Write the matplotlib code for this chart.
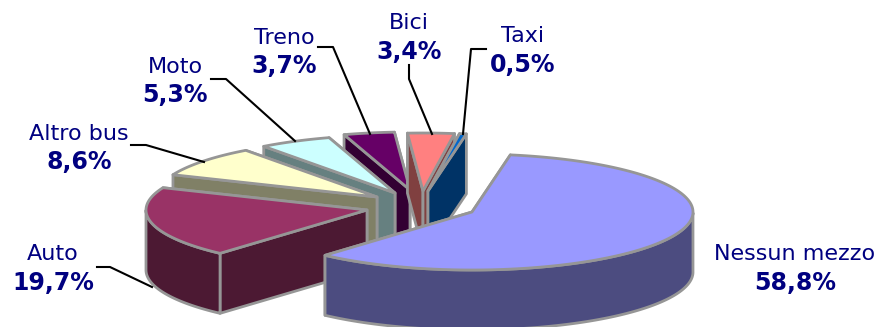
import numpy as np
import matplotlib
matplotlib.use('Agg')
import matplotlib.pyplot as plt
from matplotlib.patches import Polygon

# Share of trips per transport mode, clockwise from the top of the pie
categories = ['Nessun mezzo', 'Auto', 'Altro bus', 'Moto', 'Treno', 'Bici', 'Taxi']
values = [58.8, 19.7, 8.6, 5.3, 3.7, 3.4, 0.5]

top_colors = ['#9999ff', '#993366', '#ffffcc', '#ccffff', '#660066', '#ff8080', '#0066cc']
side_colors = ['#4c4c80', '#4c1933', '#808066', '#668080', '#330033', '#804040', '#003366']

# Pie geometry in pixels
RX, RY, DEPTH = 221, 58, 60
START = 80
EDGE = '#969696'
apex = [(472, 212), (367, 210), (377, 197), (395, 193), (410, 190), (423, 191), (428, 191)]

# Slices are painted back to front
draw_order = [4, 3, 2, 1, 5, 6, 0]

label_pos = [(795, 254, 283), (53, 254, 283), (79, 134, 162), (175, 67, 95),
             (284, 38, 66), (409, 23, 52), (523, 36, 65)]
leaders = [
    None,
    [(97, 267), (110, 267), (152, 287)],
    [(131, 145), (146, 145), (204, 162)],
    [(211, 79), (226, 79), (295, 141)],
    [(318, 47), (333, 47), (370, 134)],
    [(409, 65), (409, 79), (432, 134)],
    [(486, 49), (471, 49), (463, 134)],
]

fig = plt.figure(figsize=(8.81, 3.27), dpi=100)
ax = fig.add_axes([0, 0, 1, 1])
ax.set_xlim(0, 881)
ax.set_ylim(327, 0)
ax.axis('off')


def rim(center, t):
    t = np.radians(t)
    return np.column_stack([center[0] + RX * np.cos(t), center[1] - RY * np.sin(t)])


def add_poly(pts, color, z):
    ax.add_patch(Polygon(pts, closed=True, facecolor=color, edgecolor=EDGE,
                         linewidth=2, joinstyle='round', zorder=z))


# Angles run clockwise, so each slice spans stop[i] .. stop[i] + sweep
sweeps = np.array(values) / sum(values) * 360
starts = START - np.concatenate([[0], np.cumsum(sweeps)[:-1]])
stops = starts - sweeps

for z, i in enumerate(draw_order):
    c = np.array(apex[i], dtype=float)
    drop = np.array([0, DEPTH])
    base = z * 10

    # radial walls, the one nearer the viewer goes on last
    ends = sorted([rim(c, [starts[i]])[0], rim(c, [stops[i]])[0]], key=lambda p: p[1])
    for p in ends:
        add_poly([c, p, p + drop, c + drop], side_colors[i], base)

    # outer wall, only the part of the rim facing the viewer
    ts = np.linspace(starts[i], stops[i], 200)
    front = ts[np.sin(np.radians(ts)) < 0]
    if len(front) > 1:
        arc = rim(c, front)
        add_poly(np.vstack([arc, (arc + drop)[::-1]]), side_colors[i], base + 1)

    # top face
    add_poly(np.vstack([[c], rim(c, ts)]), top_colors[i], base + 2)

for name, val, pos, line in zip(categories, values, label_pos, leaders):
    pct = f'{val:.1f}%'.replace('.', ',')
    ax.text(pos[0], pos[1], name, ha='center', va='center', color='#000080', fontsize=16)
    ax.text(pos[0], pos[2], pct, ha='center', va='center', color='#000080',
            fontsize=17, fontweight='bold')
    if line:
        xs, ys = zip(*line)
        ax.plot(xs, ys, color='black', linewidth=1.5, zorder=200)

fig.savefig('out.png', dpi=100)
